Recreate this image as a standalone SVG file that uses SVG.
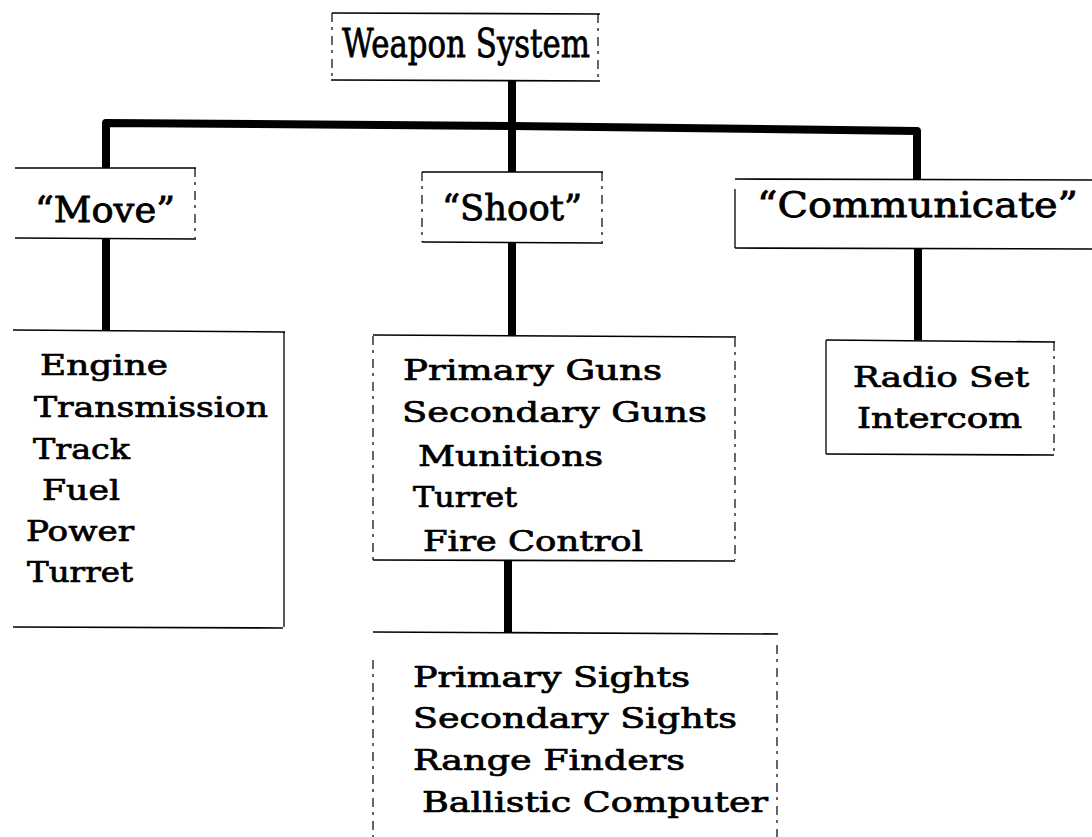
<svg xmlns="http://www.w3.org/2000/svg" width="1092" height="837" viewBox="0 0 1092 837">
  <style>
    .edge { stroke: #000; stroke-width: 1.6; fill: none; }
    .side { stroke: #000; stroke-width: 1.2; fill: none; stroke-dasharray: 9 5 3 6; }
    .solid { stroke: #000; stroke-width: 1.3; fill: none; }
    .link { stroke: #000; stroke-width: 8; fill: none; stroke-linejoin: round; }
    text { font-family: "DejaVu Serif", "Liberation Serif", serif; fill: #000; stroke: #000; stroke-width: 0.7; }
    .t1 { font-size: 40px; stroke-width: 0.8; }
    .t2 { font-size: 36px; stroke-width: 0.8; }
    .t3 { font-size: 27px; }
  </style>
  <rect width="1092" height="837" fill="#fff"/>

  <!-- connectors -->
  <g id="connectors">
    <path class="link" d="M512,80 V126"/>
    <path class="link" d="M106,168 V123 L512,126 L917,131 V179"/>
    <path class="link" d="M512,126 V172"/>
    <path class="link" d="M106,238 V330"/>
    <path class="link" d="M512,242 V335"/>
    <path class="link" d="M918,248 V340"/>
    <path class="link" d="M508,560 V632"/>
  </g>

  <!-- root -->
  <g id="weapon-system">
    <line class="edge" x1="332" y1="13" x2="600" y2="14"/>
    <line class="edge" x1="331" y1="80" x2="600" y2="81"/>
    <line class="side" x1="332" y1="13" x2="332" y2="80"/>
    <line class="side" x1="598" y1="14" x2="598" y2="80"/>
    <text class="t1" x="342" y="57" textLength="248" lengthAdjust="spacingAndGlyphs">Weapon System</text>
  </g>

  <!-- second level -->
  <g id="move">
    <line class="edge" x1="15" y1="168" x2="196" y2="168"/>
    <line class="edge" x1="15" y1="238" x2="196" y2="239"/>
    <line class="side" x1="195" y1="168" x2="195" y2="238"/>
    <text class="t2" x="35" y="222" textLength="140" lengthAdjust="spacingAndGlyphs">“Move”</text>
  </g>
  <g id="shoot">
    <line class="edge" x1="422" y1="172" x2="603" y2="172"/>
    <line class="edge" x1="422" y1="242" x2="603" y2="243"/>
    <line class="side" x1="422" y1="172" x2="422" y2="242"/>
    <line class="side" x1="602" y1="172" x2="602" y2="242"/>
    <text class="t2" x="442" y="220" textLength="140" lengthAdjust="spacingAndGlyphs">“Shoot”</text>
  </g>
  <g id="communicate">
    <line class="edge" x1="735" y1="179" x2="1092" y2="180"/>
    <line class="edge" x1="735" y1="248" x2="1092" y2="249"/>
    <line class="solid" x1="735" y1="189" x2="735" y2="248"/>
    <text class="t2" x="757" y="217" textLength="321" lengthAdjust="spacingAndGlyphs">“Communicate”</text>
  </g>

  <!-- third level -->
  <g id="move-items">
    <line class="edge" x1="13" y1="330" x2="285" y2="332"/>
    <line class="edge" x1="13" y1="627" x2="283" y2="628"/>
    <line class="solid" x1="284" y1="332" x2="284" y2="627"/>
    <text class="t3" x="40" y="375" textLength="128" lengthAdjust="spacingAndGlyphs">Engine</text>
    <text class="t3" x="34" y="417" textLength="234" lengthAdjust="spacingAndGlyphs">Transmission</text>
    <text class="t3" x="33" y="459" textLength="97" lengthAdjust="spacingAndGlyphs">Track</text>
    <text class="t3" x="42" y="500" textLength="78" lengthAdjust="spacingAndGlyphs">Fuel</text>
    <text class="t3" x="26" y="541" textLength="108" lengthAdjust="spacingAndGlyphs">Power</text>
    <text class="t3" x="27" y="582" textLength="106" lengthAdjust="spacingAndGlyphs">Turret</text>
  </g>
  <g id="shoot-items">
    <line class="edge" x1="373" y1="335" x2="736" y2="337"/>
    <line class="edge" x1="373" y1="560" x2="735" y2="561"/>
    <line class="side" x1="373" y1="336" x2="373" y2="560"/>
    <line class="side" x1="735" y1="338" x2="735" y2="560"/>
    <text class="t3" x="403" y="380" textLength="259" lengthAdjust="spacingAndGlyphs">Primary Guns</text>
    <text class="t3" x="402" y="422" textLength="305" lengthAdjust="spacingAndGlyphs">Secondary Guns</text>
    <text class="t3" x="418" y="466" textLength="185" lengthAdjust="spacingAndGlyphs">Munitions</text>
    <text class="t3" x="413" y="507" textLength="104" lengthAdjust="spacingAndGlyphs">Turret</text>
    <text class="t3" x="423" y="551" textLength="220" lengthAdjust="spacingAndGlyphs">Fire Control</text>
  </g>
  <g id="communicate-items">
    <line class="edge" x1="826" y1="340" x2="1055" y2="342"/>
    <line class="edge" x1="826" y1="454" x2="1054" y2="455"/>
    <line class="solid" x1="826" y1="340" x2="826" y2="454"/>
    <line class="side" x1="1054" y1="342" x2="1054" y2="454"/>
    <text class="t3" x="853" y="387" textLength="176" lengthAdjust="spacingAndGlyphs">Radio Set</text>
    <text class="t3" x="857" y="428" textLength="165" lengthAdjust="spacingAndGlyphs">Intercom</text>
  </g>

  <!-- fourth level -->
  <g id="fire-control-items">
    <line class="edge" x1="373" y1="632" x2="778" y2="634"/>
    <line class="side" x1="373" y1="660" x2="373" y2="837"/>
    <line class="side" x1="777" y1="645" x2="777" y2="837"/>
    <text class="t3" x="413" y="687" textLength="277" lengthAdjust="spacingAndGlyphs">Primary Sights</text>
    <text class="t3" x="413" y="728" textLength="324" lengthAdjust="spacingAndGlyphs">Secondary Sights</text>
    <text class="t3" x="413" y="770" textLength="272" lengthAdjust="spacingAndGlyphs">Range Finders</text>
    <text class="t3" x="422" y="812" textLength="346" lengthAdjust="spacingAndGlyphs">Ballistic Computer</text>
  </g>
</svg>
